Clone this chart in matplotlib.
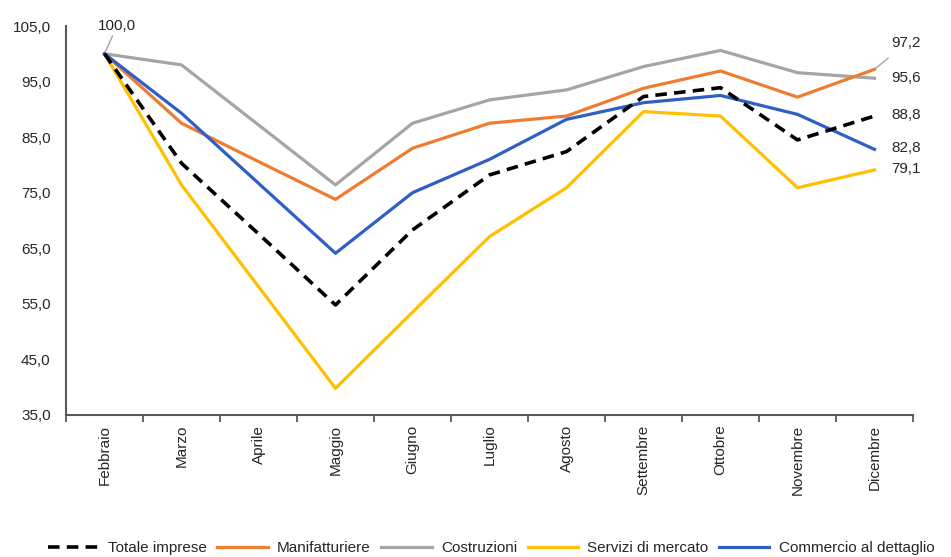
import matplotlib
matplotlib.use("Agg")
import matplotlib.pyplot as plt
from matplotlib.ticker import FixedLocator

plt.rcParams['font.family'] = ['Liberation Sans', 'DejaVu Sans']

months = ["Febbraio", "Marzo", "Aprile", "Maggio", "Giugno", "Luglio",
          "Agosto", "Settembre", "Ottobre", "Novembre", "Dicembre"]
totale = [100.0, 80.3, 67.6, 54.8, 68.3, 78.2, 82.4, 92.3, 93.9, 84.5, 88.8]
manifatturiere = [100.0, 87.5, 80.6, 73.8, 83.0, 87.5, 88.8, 93.8, 96.9, 92.2, 97.2]
costruzioni = [100.0, 98.0, 87.2, 76.4, 87.5, 91.7, 93.5, 97.7, 100.6, 96.6, 95.6]
servizi = [100.0, 76.4, 58.1, 39.8, 53.5, 67.1, 75.9, 89.6, 88.8, 75.9, 79.1]
commercio = [100.0, 89.3, 76.7, 64.1, 75.0, 81.0, 88.2, 91.2, 92.5, 89.1, 82.8]
yticks = [35, 45, 55, 65, 75, 85, 95, 105]

FS = 11
fig = plt.figure(figsize=(9.51, 5.57), dpi=100)
ax = fig.add_axes([66/951, 1-415/557, (913-66)/951, (415-26)/557])

x = list(range(len(months)))
txt_col = "#262626"

ax.plot(x, manifatturiere, color="#ED7D31", lw=2.3, label="Manifatturiere", zorder=3)
ax.plot(x, costruzioni, color="#A5A5A5", lw=2.3, label="Costruzioni", zorder=2)
ax.plot(x, servizi, color="#FFC000", lw=2.3, label="Servizi di mercato", zorder=3)
ax.plot(x, commercio, color="#2F5FC4", lw=2.3, label="Commercio al dettaglio", zorder=4)
ax.plot(x, totale, color="black", lw=2.6, ls=(0, (3.2, 2.0)), label="Totale imprese", zorder=5)

ax.set_xlim(-0.5, len(months) - 0.5)
ax.set_ylim(35, 105)
ax.set_yticks(yticks)
ax.set_yticklabels([f"{v:.1f}".replace(".", ",") for v in yticks], fontsize=FS, color=txt_col)
ax.tick_params(axis='y', length=0, pad=11)
ax.set_xticks(x)
ax.set_xticklabels(months, rotation=90, fontsize=FS, color=txt_col)
ax.tick_params(axis='x', length=0, pad=7)
ax.xaxis.set_minor_locator(FixedLocator([i + 0.5 for i in range(-1, len(months))]))
ax.tick_params(axis='x', which='minor', length=5, width=1.3, color="#595959")

for s in ["top", "right"]:
    ax.spines[s].set_visible(False)
for s in ["left", "bottom"]:
    ax.spines[s].set_color("#595959")
    ax.spines[s].set_linewidth(1.5)

# data labels
ax.annotate("100,0", xy=(0, totale[0]), xytext=(9, 20), textcoords="offset points",
            fontsize=FS, color=txt_col, ha="center", va="center",
            arrowprops=dict(arrowstyle="-", color="#A5A5A5", lw=1, shrinkA=0, shrinkB=1))
last = len(months) - 1
ax.annotate(f"{manifatturiere[-1]:.1f}".replace(".", ","), xy=(last, manifatturiere[-1]),
            xytext=(23, 19), textcoords="offset points", fontsize=FS, color=txt_col,
            ha="center", va="center",
            arrowprops=dict(arrowstyle="-", color="#A5A5A5", lw=1, shrinkA=6, shrinkB=1))
for series, dy in [(costruzioni, 0), (totale, 0.5), (commercio, 1), (servizi, 0.5)]:
    ax.annotate(f"{series[-1]:.1f}".replace(".", ","), xy=(last, series[-1]),
                xytext=(12, dy), textcoords="offset points", fontsize=FS, color=txt_col,
                ha="left", va="center")

handles, labels = ax.get_legend_handles_labels()
order = [4, 0, 1, 2, 3]
fig.legend([handles[i] for i in order], [labels[i] for i in order], ncol=5,
           loc="center left", bbox_to_anchor=(48/951, 1-548/557), frameon=False,
           borderpad=0, borderaxespad=0,
           fontsize=FS, handlelength=3.3, columnspacing=0.7, handletextpad=0.6,
           labelcolor=txt_col)

fig.savefig("out.png", dpi=100)
